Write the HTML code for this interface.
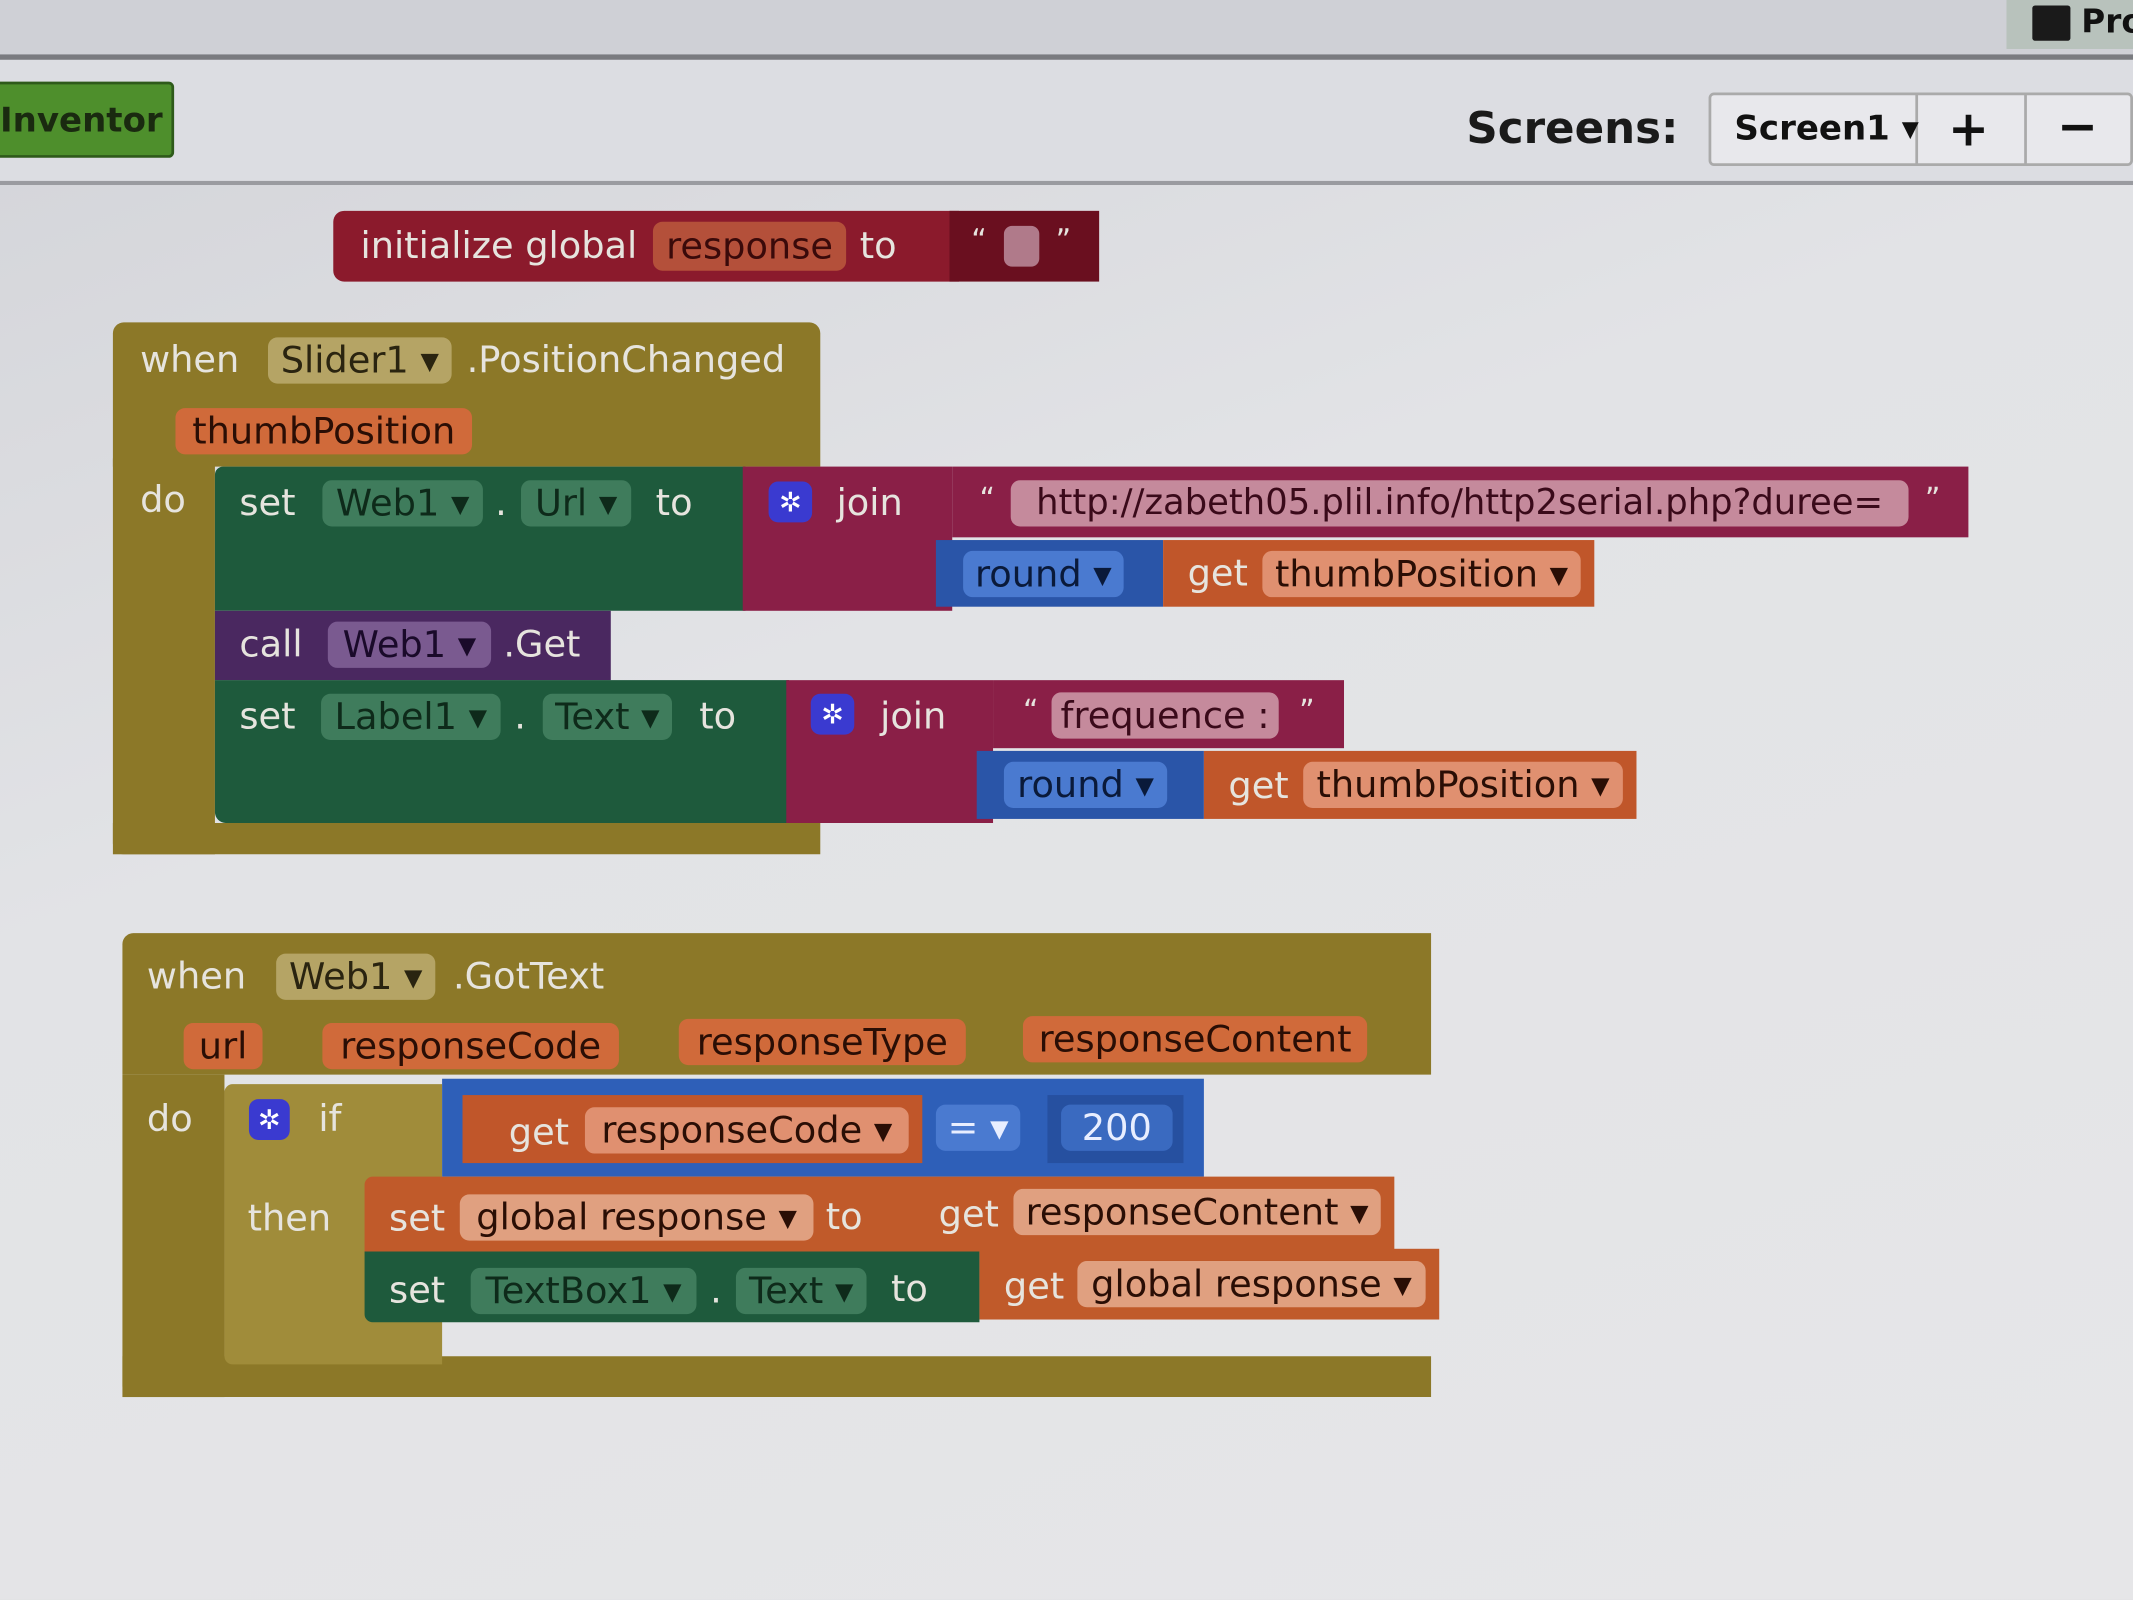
<!DOCTYPE html>
<html><head><meta charset="utf-8"><style>
html,body{margin:0;padding:0;width:2133px;height:1600px;overflow:hidden;background:#dcdde0}
#c{position:absolute;left:0;top:0;width:1568px;height:1176px;transform:scale(1.36033);transform-origin:0 0;
background:linear-gradient(160deg,#d2d3d8 0%,#e2e3e6 40%,#e6e6e8 100%);font-family:"DejaVu Sans","Liberation Sans",sans-serif;overflow:hidden}
.a{position:absolute;box-sizing:border-box}
.t{position:absolute;font-size:27px;color:#e6e4de;white-space:nowrap;line-height:1;transform:translateY(-50%)}
.p{position:absolute;box-sizing:border-box;border-radius:7px;font-size:27px;line-height:1;white-space:nowrap;display:flex;align-items:center;justify-content:center}
</style></head><body><div id="c">
<!-- top chrome -->
<div class="a" style="left:0;top:0;width:1568px;height:42px;background:#cfd0d6"></div>
<div class="a" style="left:0;top:40px;width:1568px;height:4px;background:#7a7b80"></div>
<div class="a" style="left:0;top:44px;width:1568px;height:90px;background:#dcdde2"></div>
<div class="a" style="left:0;top:133px;width:1568px;height:3px;background:#9a9ba0"></div>
<div class="a" style="left:1475px;top:0;width:93px;height:36px;background:#b8c2bc"></div>
<div class="a" style="left:1494px;top:4px;width:28px;height:26px;background:#1a1a1a;border-radius:2px"></div>
<div class="t" style="left:1530px;top:16px;font-size:24px;color:#111;font-weight:bold">Pro</div>
<div class="a" style="left:-10px;top:60px;width:138px;height:56px;background:#4e8f2c;border:2px solid #2e5a1a;border-radius:4px"></div>
<div class="t" style="left:0;top:88px;font-size:25px;color:#1a2a10;font-weight:bold">Inventor</div>
<div class="t" style="left:1078px;top:94px;font-size:32px;color:#1a1a1a;font-weight:bold">Screens:</div>
<div class="a" style="left:1256px;top:68px;width:312px;height:54px;background:#e8e8ec;border:2px solid #aaa;border-radius:4px"></div>
<div class="a" style="left:1408px;top:68px;width:2px;height:54px;background:#aaa"></div>
<div class="a" style="left:1488px;top:68px;width:2px;height:54px;background:#aaa"></div>
<div class="t" style="left:1275px;top:94px;font-size:25px;color:#111;font-weight:bold">Screen1 ▾</div>
<div class="t" style="left:1432px;top:96px;font-size:36px;color:#111;font-weight:bold">+</div>
<div class="t" style="left:1512px;top:94px;font-size:36px;color:#111;font-weight:bold">−</div>

<!-- initialize global -->
<div class="a" style="left:245px;top:155px;width:460px;height:52px;background:#8b1a2c;border-radius:8px 0 0 8px"></div>
<div class="a" style="left:698px;top:155px;width:110px;height:52px;background:#6a0f1f"></div>
<div class="t" style="left:265px;top:181px">initialize global</div>
<div class="p" style="left:480px;top:163px;width:142px;height:36px;background:#b4503a;color:#3a0a0a">response</div>
<div class="t" style="left:632px;top:181px">to</div>
<div class="t" style="left:714px;top:178px;font-size:22px">“</div>
<div class="a" style="left:738px;top:166px;width:26px;height:30px;background:#b07a8a;border-radius:6px"></div>
<div class="t" style="left:776px;top:178px;font-size:22px">”</div>

<!-- Slider event -->
<div class="a" style="left:83px;top:237px;width:520px;height:106px;background:#8c7828;border-radius:8px 8px 0 0"></div>
<div class="a" style="left:83px;top:337px;width:75px;height:291px;background:#8c7828"></div>
<div class="a" style="left:83px;top:605px;width:520px;height:23px;background:#8c7828;border-radius:0 0 0 8px"></div>
<div class="t" style="left:103px;top:265px">when</div>
<div class="p" style="left:197px;top:248px;width:135px;height:34px;background:#b5a465;color:#2a2410">Slider1 ▾</div>
<div class="t" style="left:343px;top:265px">.PositionChanged</div>
<div class="p" style="left:129px;top:300px;width:218px;height:34px;background:#d06a3a;color:#2a0e05">thumbPosition</div>
<div class="t" style="left:103px;top:368px">do</div>

<!-- set Web1.Url -->
<div class="a" style="left:158px;top:343px;width:390px;height:106px;background:#1e5a3c;border-radius:6px 0 0 0"></div>
<div class="t" style="left:176px;top:370px">set</div>
<div class="p" style="left:237px;top:353px;width:118px;height:34px;background:#3f7c5c;color:#0e2a1a">Web1 ▾</div>
<div class="t" style="left:364px;top:370px">.</div>
<div class="p" style="left:383px;top:353px;width:81px;height:34px;background:#3f7c5c;color:#0e2a1a">Url ▾</div>
<div class="t" style="left:482px;top:370px">to</div>
<div class="a" style="left:546px;top:343px;width:154px;height:106px;background:#8a1f47"></div>
<div class="a" style="left:700px;top:343px;width:747px;height:52px;background:#8a1f47"></div>
<div class="p" style="left:565px;top:354px;width:32px;height:30px;background:#3a3ad0;color:#fff;font-size:20px">✲</div>
<div class="t" style="left:615px;top:370px">join</div>
<div class="t" style="left:720px;top:368px;font-size:22px">“</div>
<div class="p" style="left:743px;top:353px;width:660px;height:34px;background:#c58a9c;color:#3a0a1a;font-size:26px">http://zabeth05.plil.info/http2serial.php?duree=</div>
<div class="t" style="left:1415px;top:368px;font-size:22px">”</div>
<div class="a" style="left:688px;top:397px;width:167px;height:49px;background:#2a55a8"></div>
<div class="p" style="left:708px;top:405px;width:118px;height:34px;background:#4a7ad0;color:#0a1a3a">round ▾</div>
<div class="a" style="left:855px;top:397px;width:317px;height:49px;background:#c0562a"></div>
<div class="t" style="left:873px;top:422px">get</div>
<div class="p" style="left:928px;top:405px;width:234px;height:34px;background:#e09070;color:#2a0e05">thumbPosition ▾</div>

<!-- call Web1.Get -->
<div class="a" style="left:158px;top:449px;width:291px;height:51px;background:#4a2860"></div>
<div class="t" style="left:176px;top:474px">call</div>
<div class="p" style="left:241px;top:457px;width:120px;height:34px;background:#7a5a90;color:#1a0a2a">Web1 ▾</div>
<div class="t" style="left:370px;top:474px">.Get</div>

<!-- set Label1.Text -->
<div class="a" style="left:158px;top:500px;width:422px;height:105px;background:#1e5a3c;border-radius:0 0 0 8px"></div>
<div class="t" style="left:176px;top:527px">set</div>
<div class="p" style="left:236px;top:510px;width:132px;height:34px;background:#3f7c5c;color:#0e2a1a">Label1 ▾</div>
<div class="t" style="left:378px;top:527px">.</div>
<div class="p" style="left:399px;top:510px;width:95px;height:34px;background:#3f7c5c;color:#0e2a1a">Text ▾</div>
<div class="t" style="left:514px;top:527px">to</div>
<div class="a" style="left:578px;top:500px;width:152px;height:105px;background:#8a1f47"></div>
<div class="a" style="left:730px;top:500px;width:258px;height:50px;background:#8a1f47"></div>
<div class="p" style="left:596px;top:510px;width:32px;height:30px;background:#3a3ad0;color:#fff;font-size:20px">✲</div>
<div class="t" style="left:647px;top:527px">join</div>
<div class="t" style="left:752px;top:524px;font-size:22px">“</div>
<div class="p" style="left:773px;top:509px;width:167px;height:34px;background:#c58a9c;color:#3a0a1a">frequence :</div>
<div class="t" style="left:955px;top:524px;font-size:22px">”</div>
<div class="a" style="left:718px;top:552px;width:167px;height:50px;background:#2a55a8"></div>
<div class="p" style="left:738px;top:560px;width:120px;height:34px;background:#4a7ad0;color:#0a1a3a">round ▾</div>
<div class="a" style="left:885px;top:552px;width:318px;height:50px;background:#c0562a"></div>
<div class="t" style="left:903px;top:578px">get</div>
<div class="p" style="left:958px;top:560px;width:235px;height:34px;background:#e09070;color:#2a0e05">thumbPosition ▾</div>

<!-- GotText event -->
<div class="a" style="left:90px;top:686px;width:962px;height:104px;background:#8c7828;border-radius:8px 0 0 0"></div>
<div class="a" style="left:90px;top:790px;width:75px;height:237px;background:#8c7828"></div>
<div class="a" style="left:90px;top:997px;width:962px;height:30px;background:#8c7828;border-radius:0 0 0 8px"></div>
<div class="t" style="left:108px;top:718px">when</div>
<div class="p" style="left:203px;top:701px;width:117px;height:34px;background:#b5a465;color:#2a2410">Web1 ▾</div>
<div class="t" style="left:333px;top:718px">.GotText</div>
<div class="p" style="left:135px;top:752px;width:58px;height:34px;background:#d06a3a;color:#2a0e05">url</div>
<div class="p" style="left:237px;top:752px;width:218px;height:34px;background:#d06a3a;color:#2a0e05">responseCode</div>
<div class="p" style="left:499px;top:749px;width:211px;height:34px;background:#d06a3a;color:#2a0e05">responseType</div>
<div class="p" style="left:752px;top:747px;width:253px;height:34px;background:#d06a3a;color:#2a0e05">responseContent</div>
<div class="t" style="left:108px;top:823px">do</div>

<!-- if block -->
<div class="a" style="left:165px;top:797px;width:160px;height:206px;background:#a08c3a;border-radius:6px 0 0 6px"></div>
<div class="p" style="left:183px;top:808px;width:30px;height:30px;background:#3a3ad0;color:#fff;font-size:20px">✲</div>
<div class="t" style="left:234px;top:823px">if</div>
<div class="t" style="left:182px;top:896px">then</div>
<div class="a" style="left:325px;top:793px;width:560px;height:72px;background:#2e5fb8"></div>
<div class="a" style="left:340px;top:805px;width:338px;height:50px;background:#c0562a"></div>
<div class="t" style="left:374px;top:833px">get</div>
<div class="p" style="left:430px;top:814px;width:238px;height:34px;background:#e09070;color:#2a0e05">responseCode ▾</div>
<div class="p" style="left:688px;top:812px;width:62px;height:34px;background:#4a7ad0;color:#e8eeff">= ▾</div>
<div class="a" style="left:770px;top:805px;width:100px;height:50px;background:#2650a0"></div>
<div class="p" style="left:780px;top:812px;width:82px;height:34px;background:#3a6ac0;color:#e8eeff">200</div>

<!-- set global response -->
<div class="a" style="left:268px;top:865px;width:757px;height:55px;background:#c05a2a;border-radius:6px 0 0 0"></div>
<div class="t" style="left:286px;top:896px">set</div>
<div class="p" style="left:338px;top:878px;width:260px;height:34px;background:#e0a080;color:#2a0e05">global response ▾</div>
<div class="t" style="left:607px;top:895px">to</div>
<div class="t" style="left:690px;top:893px">get</div>
<div class="p" style="left:745px;top:874px;width:270px;height:34px;background:#e0a080;color:#2a0e05">responseContent ▾</div>

<!-- set TextBox1 -->
<div class="a" style="left:268px;top:920px;width:452px;height:52px;background:#1e5a3c;border-radius:0 0 0 6px"></div>
<div class="t" style="left:286px;top:949px">set</div>
<div class="p" style="left:346px;top:932px;width:166px;height:34px;background:#3f7c5c;color:#0e2a1a">TextBox1 ▾</div>
<div class="t" style="left:522px;top:949px">.</div>
<div class="p" style="left:541px;top:932px;width:96px;height:34px;background:#3f7c5c;color:#0e2a1a">Text ▾</div>
<div class="t" style="left:655px;top:948px">to</div>
<div class="a" style="left:720px;top:918px;width:338px;height:52px;background:#c05a2a"></div>
<div class="t" style="left:738px;top:946px">get</div>
<div class="p" style="left:792px;top:927px;width:256px;height:34px;background:#e0a080;color:#2a0e05">global response ▾</div>
</div></body></html>
